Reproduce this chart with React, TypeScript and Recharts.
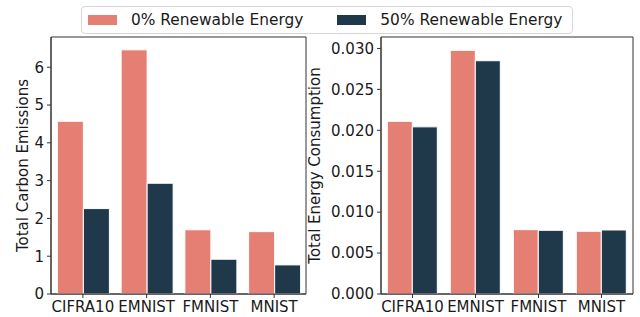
import React from 'react';
import { BarChart, Bar, XAxis, YAxis, ReferenceArea } from 'recharts';

const datasets = ['CIFRA10', 'EMNIST', 'FMNIST', 'MNIST'];
const carbonRenew0 = [4.57, 6.46, 1.7, 1.65];
const carbonRenew50 = [2.26, 2.93, 0.92, 0.77];
const energyRenew0 = [0.0211, 0.02977, 0.00786, 0.00766];
const energyRenew50 = [0.02042, 0.0285, 0.00778, 0.00782];
const carbonTicks = [0, 1, 2, 3, 4, 5, 6];
const energyTicks = [0, 0.005, 0.01, 0.015, 0.02, 0.025, 0.03];

const series = [
  { key: 'r0', name: '0% Renewable Energy', color: '#E57F74' },
  { key: 'r50', name: '50% Renewable Energy', color: '#1F384A' },
];

const carbonData = datasets.map((name, i) => ({ name, r0: carbonRenew0[i], r50: carbonRenew50[i] }));
const energyData = datasets.map((name, i) => ({ name, r0: energyRenew0[i], r50: energyRenew50[i] }));

const FONT = '"DejaVu Sans", sans-serif';
const SPINE = '#333333';
const tickStyle = { fill: '#1a1a1a', fontSize: 15, fontFamily: FONT };

type PanelProps = {
  data: any[];
  width: number;
  yWidth: number;
  marginRight: number;
  domain: [number, number];
  ticks: number[];
  label: string;
  labelOffset: number;
  fmt: (v: number) => string;
};

const Panel = ({ data, width, yWidth, marginRight, domain, ticks, label, labelOffset, fmt }: PanelProps) => (
  <BarChart
    width={width}
    height={317}
    data={data}
    margin={{ top: 37, right: marginRight, bottom: 0, left: 0 }}
    barCategoryGap="10%"
    barGap={0}
  >
    <XAxis
      dataKey="name"
      height={23}
      tick={tickStyle}
      tickSize={4}
      tickMargin={3}
      axisLine={{ stroke: SPINE }}
      tickLine={{ stroke: SPINE }}
    />
    <YAxis
      width={yWidth}
      domain={domain}
      ticks={ticks}
      tickFormatter={fmt}
      tick={tickStyle}
      tickSize={4}
      tickMargin={3}
      axisLine={{ stroke: SPINE }}
      tickLine={{ stroke: SPINE }}
      allowDataOverflow
      label={{
        value: label,
        angle: -90,
        position: 'insideLeft',
        offset: labelOffset,
        style: { textAnchor: 'middle', fill: '#1a1a1a', fontSize: 15, fontFamily: FONT },
      }}
    />
    {series.map((s) => (
      <Bar key={s.key} dataKey={s.key} name={s.name} fill={s.color} stroke="#ffffff" strokeWidth={1} isAnimationActive={false} />
    ))}
    <ReferenceArea y1={domain[0]} y2={domain[1]} fill="none" fillOpacity={0} stroke={SPINE} strokeWidth={1} />
  </BarChart>
);

export default function App() {
  return (
    <div style={{ position: 'fixed', left: 0, top: 0, width: 640, height: 317, background: '#fff', fontFamily: FONT }}>
      <div
        style={{
          position: 'absolute',
          left: 81,
          top: 6,
          width: 490,
          height: 26,
          border: '1px solid #d6d6d6',
          borderRadius: 4,
          display: 'flex',
          alignItems: 'center',
          fontSize: 15.4,
          color: '#1a1a1a',
        }}
      >
        {series.map((s, i) => (
          <div key={s.key} style={{ display: 'flex', alignItems: 'center', marginLeft: i === 0 ? 6 : 34 }}>
            <span style={{ display: 'inline-block', width: 29, height: 10, background: s.color, marginRight: 14 }} />
            <span>{s.name}</span>
          </div>
        ))}
      </div>
      <div style={{ position: 'absolute', left: 0, top: 0 }}>
        <Panel
          data={carbonData}
          width={320}
          yWidth={51}
          marginRight={14}
          domain={[0, 6.8]}
          ticks={carbonTicks}
          label="Total Carbon Emissions"
          labelOffset={23}
          fmt={(v) => String(v)}
        />
      </div>
      <div style={{ position: 'absolute', left: 300, top: 0 }}>
        <Panel
          data={energyData}
          width={340}
          yWidth={81}
          marginRight={7}
          domain={[0, 0.0314]}
          ticks={energyTicks}
          label="Total Energy Consumption"
          labelOffset={15}
          fmt={(v) => v.toFixed(3)}
        />
      </div>
    </div>
  );
}
